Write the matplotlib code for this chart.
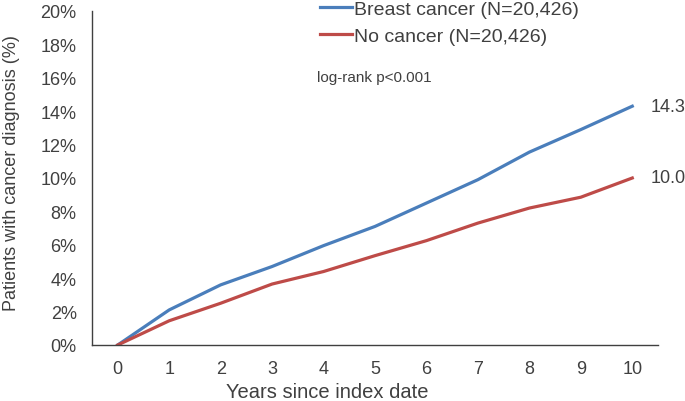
import matplotlib
matplotlib.use("Agg")
import matplotlib.pyplot as plt
from matplotlib.ticker import FuncFormatter

plt.rcParams['font.family'] = ['Liberation Sans', 'DejaVu Sans']

years = [0, 1, 2, 3, 4, 5, 6, 7, 8, 9, 10]
breast = [0.0, 2.1, 3.6, 4.7, 5.95, 7.1, 8.5, 9.9, 11.55, 12.9, 14.3]
nocancer = [0.0, 1.45, 2.5, 3.65, 4.4, 5.35, 6.25, 7.3, 8.2, 8.85, 10.0]
labels = ["Breast cancer (N=20,426)", "No cancer (N=20,426)"]
end_labels = ["14.3", "10.0"]
colors = ["#4a7ebb", "#be4b48"]
text_color = "#404040"

W, H = 685, 402
fig = plt.figure(figsize=(W/100, H/100), dpi=100)
ax = fig.add_axes([92/W, 1-346/H, (658-92)/W, (346-12)/H])

l1, = ax.plot(years, breast, color=colors[0], lw=2.3, label=labels[0])
l2, = ax.plot(years, nocancer, color=colors[1], lw=2.3, label=labels[1])

ax.set_xlim(-0.5, 10.5)
ax.set_ylim(0, 20)
ax.set_xticks(years)
ax.set_yticks(range(0, 21, 2))
ax.yaxis.set_major_formatter(FuncFormatter(lambda v, p: f"{int(v)}%"))
ax.tick_params(length=0, labelsize=13, colors=text_color)
ax.tick_params(axis='y', pad=11)
ax.tick_params(axis='x', pad=11)
for s in ['top', 'right']:
    ax.spines[s].set_visible(False)
for s in ['left', 'bottom']:
    ax.spines[s].set_color("#404040")
    ax.spines[s].set_linewidth(1.0)

ax.set_xlabel("Years since index date", fontsize=14.5, color=text_color)
ax.xaxis.set_label_coords((327-92)/(658-92), -(393-346)/(346-12))
ax.xaxis.label.set_va('center')
ax.set_ylabel("Patients with cancer diagnosis (%)", fontsize=13, color=text_color)
ax.yaxis.set_label_coords(-(92-12)/(658-92), (346-173)/(346-12))
ax.yaxis.label.set_va('center')

ax.text(10.35, breast[-1], end_labels[0], fontsize=13, color=text_color, va='center', ha='left')
ax.text(10.35, nocancer[-1], end_labels[1], fontsize=13, color=text_color, va='center', ha='left')
ax.text(3.87, 16.05, "log-rank p<0.001", fontsize=11, color=text_color, va='center', ha='left')

leg = fig.legend(handles=[l1, l2], loc='upper left', bbox_to_anchor=(320/W, 1 - 1/H),
                 frameon=False, fontsize=14, handlelength=1.65, handletextpad=0.1,
                 labelspacing=0.5, borderaxespad=0, borderpad=0)
for t in leg.get_texts():
    t.set_color(text_color)

fig.savefig("out.png", dpi=100)
